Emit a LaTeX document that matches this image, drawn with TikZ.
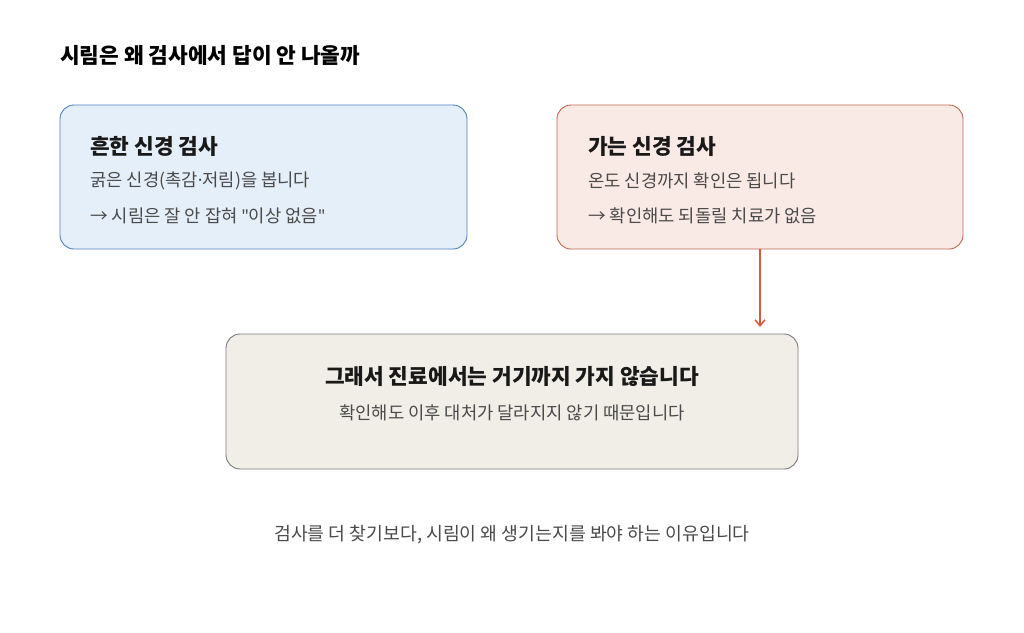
\documentclass[tikz,border=0pt]{standalone}
\usepackage{fontspec}
\setmainfont{Noto Sans CJK KR}
\newfontfamily\lat{Noto Sans}
\usetikzlibrary{arrows.meta}
\definecolor{bluef}{HTML}{E5EFFA}\definecolor{blued}{HTML}{4F81C0}
\definecolor{redf}{HTML}{FAEAE5}\definecolor{redd}{HTML}{C0684E}
\definecolor{grayf}{HTML}{F1EEE8}\definecolor{grayd}{HTML}{7A7A7A}
\definecolor{arr}{HTML}{D95A3A}\definecolor{txt}{HTML}{4A4A4A}
\begin{document}
\begin{tikzpicture}[x=1pt,y=-1pt,
 box/.style={rounded corners=14pt,line width=0.9pt},
 head/.style={anchor=west,font=\fontsize{21.4}{24}\selectfont\bfseries,text=black!90},
 body/.style={anchor=west,font=\fontsize{17.7}{20}\selectfont,text=txt}]
\useasboundingbox (0,0) rectangle (1024,632);
\fill[white] (0,0) rectangle (1024,632);
\node[anchor=west,inner sep=0pt,font=\fontsize{21.4}{24}\selectfont\bfseries] (title) at (60,55) {시림은 왜 검사에서 답이 안 나올까};
\draw[box,fill=bluef,draw=blued] (60,105) rectangle (467,249);
\node[head,inner sep=0pt] (h1) at (90,146) {흔한 신경 검사};
\node[body,inner sep=0pt] (b1a) at (90,181) {굵은 신경(촉감{\lat ·}저림)을 봅니다};
\node[body,inner sep=0pt] (b1b) at (90,216) {→ 시림은 잘 안 잡혀 {\lat\char34}이상 없음{\lat\char34}};
\draw[box,fill=redf,draw=redd] (557,105) rectangle (963,249);
\node[head,inner sep=0pt] (h2) at (588,146) {가는 신경 검사};
\node[body,inner sep=0pt] (b2a) at (588,181) {온도 신경까지 확인은 됩니다};
\node[body,inner sep=0pt] (b2b) at (588,216) {→ 확인해도 되돌릴 치료가 없음};
\draw[box,fill=grayf,draw=grayd] (226,334) rectangle (798,469);
\node[head,anchor=center] (h3) at (512,376) {그래서 진료에서는 거기까지 가지 않습니다};
\node[body,anchor=center] (b3) at (512,413) {확인해도 이후 대처가 달라지지 않기 때문입니다};
\coordinate (s) at (760,249); \coordinate (e) at (760,327);
\draw[arr,line width=1.5pt,-{Straight Barb[length=6pt,width=10pt]}] (s) -- (e);
\node[body,anchor=center,font=\fontsize{18.3}{20}\selectfont] (foot) at (512,535) {검사를 더 찾기보다, 시림이 왜 생기는지를 봐야 하는 이유입니다};
\end{tikzpicture}
\end{document}
